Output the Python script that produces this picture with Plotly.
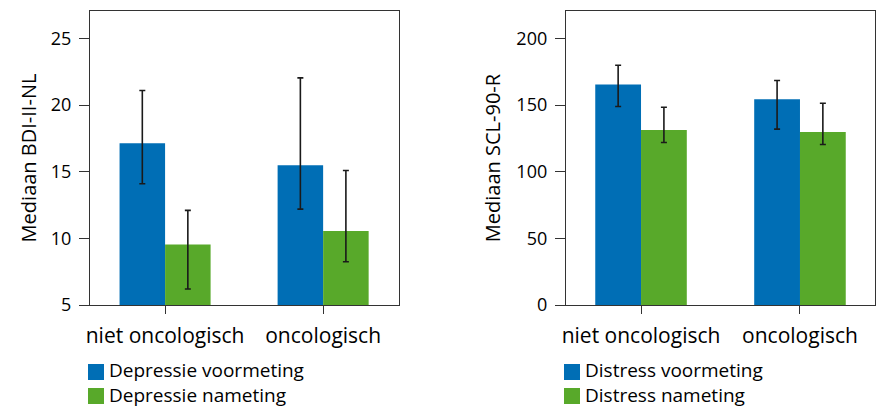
import plotly.graph_objects as go

categories = ["niet oncologisch", "oncologisch"]

# Left panel: BDI-II-NL (depression)
dep_names = ["Depressie voormeting", "Depressie nameting"]
dep_pre = [17.15, 15.5]
dep_pre_hi = [21.1, 22.05]
dep_pre_lo = [14.1, 12.2]
dep_post = [9.55, 10.55]
dep_post_hi = [12.1, 15.1]
dep_post_lo = [6.2, 8.25]

# Right panel: SCL-90-R (distress)
dis_names = ["Distress voormeting", "Distress nameting"]
dis_pre = [165.5, 154.5]
dis_pre_hi = [180.0, 168.5]
dis_pre_lo = [149.0, 132.0]
dis_post = [131.3, 129.8]
dis_post_hi = [148.5, 151.5]
dis_post_lo = [122.0, 120.5]

left_ticks = [5, 10, 15, 20, 25]
right_ticks = [0, 50, 100, 150, 200]

BLUE = "#006EB5"
GREEN = "#58A92A"
COLORS = [BLUE, GREEN]
FONT = "Open Sans"
TXT = "#000000"
W, H = 879, 407


def err(vals, hi, lo):
    return dict(type="data", symmetric=False,
                array=[h - v for h, v in zip(hi, vals)],
                arrayminus=[v - l for l, v in zip(lo, vals)],
                color="#1a1a1a", thickness=1.6, width=3)


def bar(y, name, color, hi, lo, xa, ya, grp):
    return go.Bar(x=categories, y=y, name=name, marker=dict(color=color, line=dict(width=0)),
                  error_y=err(y, hi, lo), xaxis=xa, yaxis=ya, offsetgroup=grp)


fig = go.Figure()
fig.add_trace(bar(dep_pre, dep_names[0], BLUE, dep_pre_hi, dep_pre_lo, "x", "y", "a"))
fig.add_trace(bar(dep_post, dep_names[1], GREEN, dep_post_hi, dep_post_lo, "x", "y", "b"))
fig.add_trace(bar(dis_pre, dis_names[0], BLUE, dis_pre_hi, dis_pre_lo, "x2", "y2", "a"))
fig.add_trace(bar(dis_post, dis_names[1], GREEN, dis_post_hi, dis_post_lo, "x2", "y2", "b"))

ydom = [(H - 305) / H, (H - 11) / H]
line_common = dict(showline=True, linecolor="#333333", linewidth=1.3, mirror=True,
                   ticks="outside", tickcolor="#333333", tickwidth=1.3, showgrid=False,
                   zeroline=False, automargin=False)
xfont = dict(family=FONT, size=21, color=TXT)
yfont = dict(family=FONT, size=18, color=TXT)
tfont = dict(family=FONT, size=20, color=TXT)

fig.update_layout(
    width=W, height=H, margin=dict(l=0, r=0, t=0, b=0, autoexpand=False),
    paper_bgcolor="white", plot_bgcolor="white",
    barmode="group", bargap=0.424, bargroupgap=0,
    font=dict(family=FONT, color=TXT),
    showlegend=False,
    xaxis=dict(domain=[90 / W, 399 / W], range=[-0.475, 1.48], ticklen=8,
               tickfont=xfont, ticklabelstandoff=4, anchor="y", **line_common),
    yaxis=dict(domain=ydom, range=[5, 27.07], tickvals=left_ticks, ticklen=10,
               tickfont=yfont, ticklabelstandoff=4,
               title=dict(text="Mediaan BDI-II-NL", font=tfont, standoff=8),
               anchor="x", **line_common),
    xaxis2=dict(domain=[566 / W, 875 / W], range=[-0.472, 1.472], ticklen=8,
                tickfont=xfont, ticklabelstandoff=4, anchor="y2", **line_common),
    yaxis2=dict(domain=ydom, range=[0, 220.7], tickvals=right_ticks, ticklen=10,
                tickfont=yfont, ticklabelstandoff=4,
                title=dict(text="Mediaan SCL-90-R", font=tfont, standoff=10),
                anchor="x2", **line_common),
)

# Legends (swatch + label) under each panel
for x0, names in [(88, dep_names), (564, dis_names)]:
    for i, col in enumerate(COLORS):
        ytop = 364 + i * 24
        fig.add_shape(type="rect", xref="paper", yref="paper",
                      x0=x0 / W, x1=(x0 + 16) / W,
                      y0=1 - (ytop + 16) / H, y1=1 - ytop / H,
                      fillcolor=col, line=dict(width=0))
    fig.add_annotation(xref="paper", yref="paper", x=(x0 + 20) / W,
                       y=1 - 382 / H, text="<br>".join(names), showarrow=False,
                       xanchor="left", yanchor="middle", align="left",
                       borderpad=0,
                       font=dict(family=FONT, size=19, color=TXT))

fig.write_html("out.html", config={"displayModeBar": False},
               post_script="document.body.style.margin='0px';")
